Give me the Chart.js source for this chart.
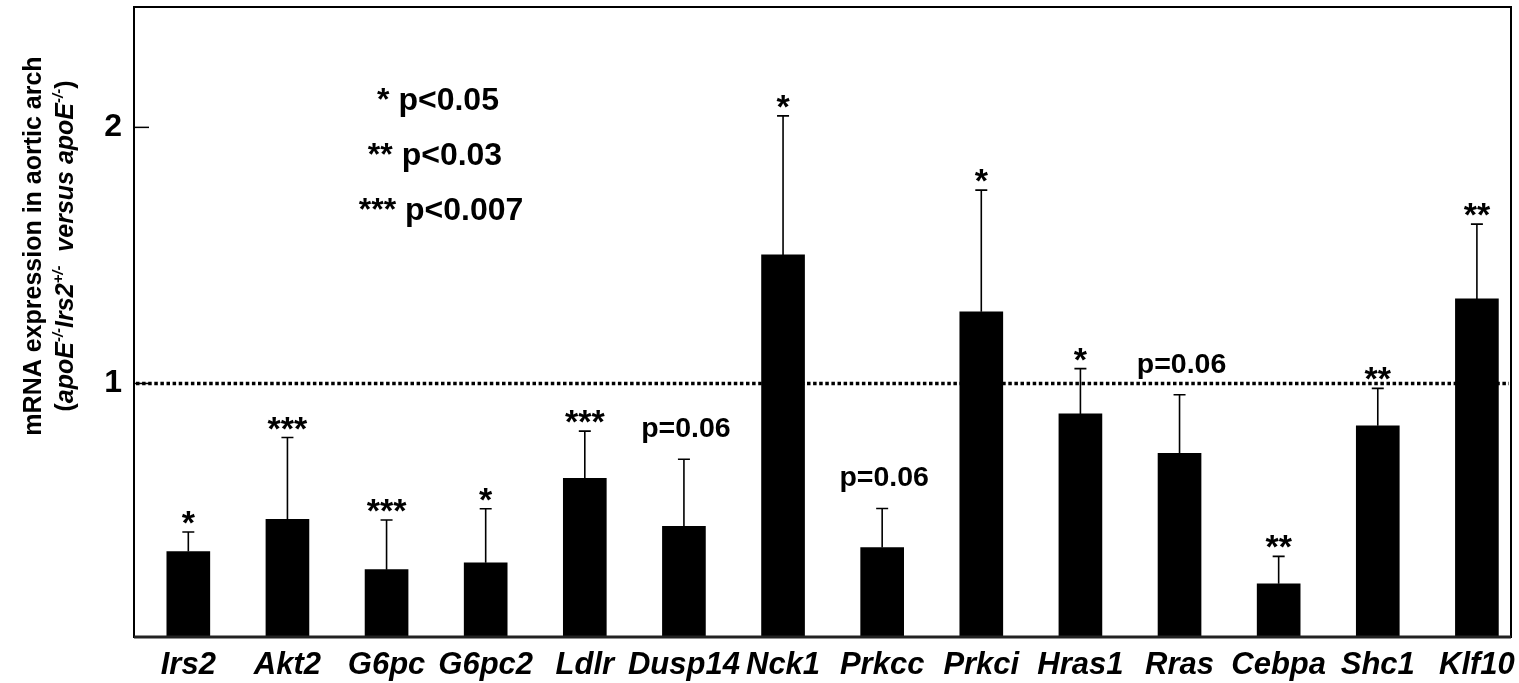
<!DOCTYPE html>
<html>
<head>
<meta charset="utf-8">
<script src="https://cdn.jsdelivr.net/npm/chart.js@4.4.1/dist/chart.umd.min.js"></script>
<style>
  html, body { margin: 0; padding: 0; background: #fff; }
  #wrap { width: 1519px; height: 683px; position: relative; }
</style>
</head>
<body>
<div id="wrap"><canvas id="c" width="1519" height="683"></canvas></div>
<script>
// ---------------- data ----------------
const categories = ['Irs2','Akt2','G6pc','G6pc2','Ldlr','Dusp14','Nck1','Prkcc','Prkci','Hras1','Rras','Cebpa','Shc1','Klf10'];
const meanValues = [0.344,0.469,0.273,0.300,0.630,0.442,1.502,0.359,1.280,0.881,0.727,0.218,0.835,1.330];
const errorValues = [0.076,0.320,0.194,0.211,0.184,0.262,0.543,0.153,0.475,0.177,0.229,0.107,0.146,0.292];
const significance = ['*','***','***','*','***','p=0.06','*','p=0.06','*','*','p=0.06','**','**','**'];
const yTickValues = [1, 2];
const referenceLevel = 1;
const legendLines = ['* p<0.05', '** p<0.03', '*** p<0.007'];
const yTitleLine1 = 'mRNA expression in aortic arch';
const yTitleLine2 = [
  { t: '(', it: false, sup: false },
  { t: 'apoE', it: true, sup: false },
  { t: '-/-', it: true, sup: true },
  { t: 'Irs2', it: true, sup: false },
  { t: '+/-', it: true, sup: true },
  { t: '  versus ', it: true, sup: false },
  { t: 'apoE', it: true, sup: false },
  { t: '-/-', it: true, sup: true },
  { t: ')', it: false, sup: false }
];

// ---------------- styling ----------------
const FONT = "'Liberation Sans', Arial, Helvetica, sans-serif";

const annotPlugin = {
  id: 'annot',
  beforeDatasetsDraw(chart) {
    const { ctx, chartArea: a, scales: { y } } = chart;
    const py = y.getPixelForValue(referenceLevel);
    ctx.save();
    ctx.strokeStyle = '#000';
    ctx.lineWidth = 3.5;
    ctx.setLineDash([3.5, 2.6]);
    ctx.beginPath();
    ctx.moveTo(a.left + 2, py);
    ctx.lineTo(a.right - 2, py);
    ctx.stroke();
    ctx.restore();
  },
  afterDatasetsDraw(chart) {
    const { ctx, chartArea: a, scales: { y } } = chart;
    const meta = chart.getDatasetMeta(0);
    ctx.save();
    // error bars
    ctx.strokeStyle = '#000';
    ctx.lineWidth = 1.6;
    meta.data.forEach((bar, i) => {
      const top = y.getPixelForValue(meanValues[i] + errorValues[i]);
      ctx.beginPath();
      ctx.moveTo(bar.x, bar.y);
      ctx.lineTo(bar.x, top);
      ctx.moveTo(bar.x - 6, top);
      ctx.lineTo(bar.x + 6, top);
      ctx.stroke();
      // significance labels
      const lab = significance[i];
      ctx.fillStyle = '#000';
      ctx.textAlign = 'center';
      ctx.textBaseline = 'alphabetic';
      if (lab.startsWith('p')) {
        ctx.font = `bold 28.5px ${FONT}`;
        ctx.fillText(lab, bar.x + 2, top - 22);
      } else {
        ctx.font = `bold 34px ${FONT}`;
        const m = ctx.measureText(lab);
        const desc = m.actualBoundingBoxDescent || -14;
        ctx.fillText(lab, bar.x, top - 8 - desc);
      }
    });
    // frame
    ctx.lineWidth = 2;
    ctx.strokeStyle = '#000';
    ctx.strokeRect(a.left, a.top, a.right - a.left, a.bottom - a.top);
    ctx.lineWidth = 3;
    ctx.strokeStyle = '#222';
    ctx.beginPath();
    ctx.moveTo(a.left, a.bottom);
    ctx.lineTo(a.right, a.bottom);
    ctx.stroke();
    // y tick marks (inside)
    ctx.lineWidth = 1.5;
    ctx.strokeStyle = '#000';
    yTickValues.forEach(v => {
      const py = y.getPixelForValue(v);
      ctx.beginPath();
      ctx.moveTo(a.left, py);
      ctx.lineTo(a.left + 15, py);
      ctx.stroke();
    });
    // legend block
    ctx.fillStyle = '#000';
    ctx.font = `bold 32px ${FONT}`;
    ctx.textAlign = 'center';
    ctx.textBaseline = 'alphabetic';
    const lx = [438, 435, 441];
    const ly = [110, 165, 220];
    legendLines.forEach((t, i) => ctx.fillText(t, lx[i], ly[i]));
    // y title
    ctx.save();
    ctx.rotate(-Math.PI / 2);
    const cy = 246;
    ctx.textAlign = 'center';
    ctx.font = `bold 25px ${FONT}`;
    ctx.fillText(yTitleLine1, -cy, 41);
    // rich second line
    const fontFor = s => s.sup ? `${s.it ? 'italic ' : ''}bold 15px ${FONT}` : `${s.it ? 'italic ' : ''}bold 25px ${FONT}`;
    let total = 0;
    yTitleLine2.forEach(s => { ctx.font = fontFor(s); total += ctx.measureText(s.t).width; });
    let xx = -cy - total / 2;
    ctx.textAlign = 'left';
    yTitleLine2.forEach(s => {
      ctx.font = fontFor(s);
      ctx.fillText(s.t, xx, s.sup ? 73 - 10 : 73);
      xx += ctx.measureText(s.t).width;
    });
    ctx.restore();
    ctx.restore();
  }
};

const chart = new Chart(document.getElementById('c'), {
  type: 'bar',
  data: {
    datasets: [{
      data: categories.map((c, i) => ({ x: i, y: meanValues[i] })),
      backgroundColor: '#000',
      borderWidth: 0,
      barThickness: 43
    }]
  },
  options: {
    responsive: false,
    animation: false,
    layout: { padding: { top: 7, right: 8, left: 0, bottom: 0 } },
    plugins: { legend: { display: false }, tooltip: { enabled: false } },
    scales: {
      x: {
        type: 'linear',
        min: -0.548,
        max: 13.344,
        offset: false,
        grid: { display: false, drawTicks: false },
        border: { display: false },
        ticks: {
          autoSkip: false, maxRotation: 0, minRotation: 0, padding: 10, color: '#000',
          font: { family: FONT, size: 31, weight: 'bold', style: 'italic' },
          callback: v => categories[v] !== undefined ? categories[v] : ''
        },
        afterBuildTicks: s => { s.ticks = categories.map((_, i) => ({ value: i })); },
        afterFit: s => { s.height = 46; s.paddingLeft = 0; s.paddingRight = 0; s.paddingTop = 0; s.paddingBottom = 0; }
      },
      y: {
        min: 0.01,
        max: 2.47,
        grid: { display: false, drawTicks: false },
        border: { display: false },
        ticks: { padding: 12, color: '#000', font: { family: FONT, size: 32, weight: 'bold' } },
        afterBuildTicks: s => { s.ticks = yTickValues.map(v => ({ value: v })); },
        afterFit: s => { s.width = 134; s.paddingTop = 0; s.paddingBottom = 0; s.paddingLeft = 0; s.paddingRight = 0; }
      }
    }
  },
  plugins: [annotPlugin]
});
</script>
</body>
</html>
